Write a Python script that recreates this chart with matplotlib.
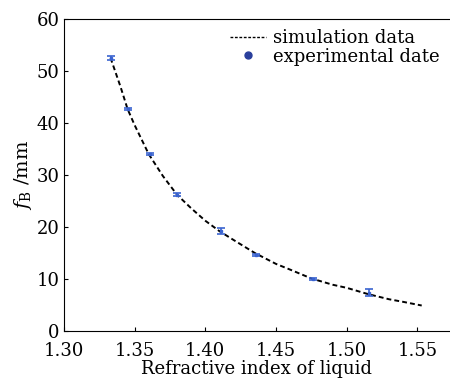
import numpy as np
import matplotlib.pyplot as plt
from matplotlib.lines import Line2D

plt.rcParams['font.family'] = 'DejaVu Serif'
plt.rcParams['mathtext.fontset'] = 'dejavuserif'

# Simulation curve
n_sim = [1.333, 1.34, 1.345, 1.35, 1.36, 1.37, 1.38, 1.39, 1.40, 1.41, 1.42,
         1.435, 1.45, 1.46, 1.475, 1.49, 1.50, 1.515, 1.53, 1.54, 1.553]
f_sim = [52.5, 47.0, 42.7, 39.6, 34.0, 29.8, 26.2, 23.6, 21.2, 19.2, 17.5,
         15.0, 12.9, 11.8, 10.1, 8.9, 8.3, 7.1, 6.1, 5.6, 4.9]

# Experimental points
n_exp = [1.3333, 1.3455, 1.3609, 1.380, 1.411, 1.436, 1.476, 1.516]
f_exp = [52.5, 42.7, 34.0, 26.2, 19.2, 14.6, 10.0, 7.4]
f_err = [0.35, 0.2, 0.2, 0.25, 0.6, 0.15, 0.15, 0.7]

fig = plt.figure(figsize=(4.5, 3.82), dpi=100)
ax = fig.add_axes([0.142, 0.1335, 0.858, 0.8168])

ax.plot(n_sim, f_sim, 'k--', linewidth=1.4, dashes=(2.5, 1.6))
ax.errorbar(n_exp, f_exp, yerr=f_err, fmt='s', color='#3a63d0', markersize=2,
            capsize=3, elinewidth=1.2, capthick=1.2)

ax.set_xlim(1.30, 1.573)
ax.set_ylim(0, 60)
ax.set_xticks([1.30, 1.35, 1.40, 1.45, 1.50, 1.55])
ax.set_xticklabels(['1.30', '1.35', '1.40', '1.45', '1.50', '1.55'])
ax.set_yticks(range(0, 61, 10))
ax.tick_params(direction='in', length=3, labelsize=13, top=False, right=False)
ax.tick_params(axis='x', pad=8)
ax.tick_params(axis='y', pad=3)
ax.spines['right'].set_visible(False)
ax.set_xlabel('Refractive index of liquid', fontsize=13, labelpad=0)
ax.set_ylabel(r'$f_\mathrm{B}$ /mm', fontsize=14, labelpad=2)

handles = [Line2D([], [], color='k', linestyle='--', dashes=(2, 1.2), linewidth=1),
           Line2D([], [], color='#2a3f9c', marker='o', linestyle='none', markersize=5)]
ax.legend(handles, ['simulation data', 'experimental date'], loc='upper right',
          frameon=False, fontsize=13, handlelength=2.0, handletextpad=0.4,
          labelspacing=0.05, borderaxespad=0.15)

plt.savefig('out.png', dpi=100)
